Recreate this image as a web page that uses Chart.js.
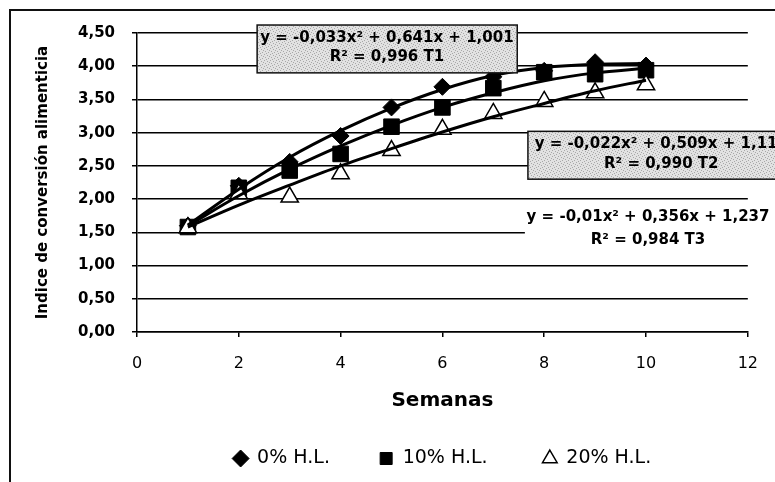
<!DOCTYPE html>
<html>
<head>
<meta charset="utf-8">
<title>Indice de conversión alimenticia</title>
<script src="https://cdn.jsdelivr.net/npm/chart.js"></script>
<style>
  body { margin: 0; background: #fff; }
</style>
</head>
<body>
<canvas id="icaChart" width="775" height="482"></canvas>
<script>
// semanas y valores
const semanas = [1, 2, 3, 4, 5, 6, 7, 8, 9, 10];
const hl0 = [1.60, 2.20, 2.56, 2.95, 3.38, 3.69, 3.84, 3.93, 4.06, 4.01];
const hl10 = [1.58, 2.17, 2.43, 2.68, 3.09, 3.38, 3.67, 3.91, 3.88, 3.94];
const hl20 = [1.57, 2.08, 2.03, 2.38, 2.73, 3.05, 3.29, 3.47, 3.60, 3.72];
// lineas de tendencia
const tend0 = [1.61, 2.15, 2.63, 3.03, 3.37, 3.65, 3.86, 3.98, 4.03, 4.04];
const tend10 = [1.60, 2.05, 2.45, 2.80, 3.11, 3.38, 3.60, 3.78, 3.90, 3.97];
const tend20 = [1.58, 1.91, 2.21, 2.50, 2.76, 3.01, 3.24, 3.44, 3.63, 3.79];
const seriesNames = ['0% H.L.', '10% H.L.', '20% H.L.'];
const yTicks = [0, 0.5, 1, 1.5, 2, 2.5, 3, 3.5, 4, 4.5];
const xTicks = [0, 2, 4, 6, 8, 10, 12];
const equations = [
    ['y = -0,033x² + 0,641x + 1,001', 'R² = 0,996 T1'],
    ['y = -0,022x² + 0,509x + 1,118', 'R² = 0,990 T2'],
    ['y = -0,01x² + 0,356x + 1,237', 'R² = 0,984 T3']
];

const pts = (vals) => semanas.map((s, i) => ({ x: s, y: vals[i] }));

// textura gris del recuadro (como el escaneo)
const speckle = (() => {
    const c = document.createElement('canvas');
    c.width = 6; c.height = 6;
    const g = c.getContext('2d');
    g.fillStyle = '#e2e2e2';
    g.fillRect(0, 0, 6, 6);
    g.fillStyle = '#a8a8a8';
    [[0, 0], [3, 1], [1, 3], [4, 4], [5, 2], [2, 5]].forEach(([a, b]) => g.fillRect(a, b, 1, 1));
    return c;
})();

const framePlugin = {
    id: 'frame',
    beforeDraw(chart) {
        const ctx = chart.ctx;
        ctx.save();
        ctx.fillStyle = '#fff';
        ctx.fillRect(0, 0, chart.width, chart.height);
        ctx.strokeStyle = '#111';
        ctx.lineWidth = 2;
        ctx.beginPath();
        ctx.moveTo(10, chart.height);
        ctx.lineTo(10, 10);
        ctx.lineTo(chart.width, 10);
        ctx.stroke();
        ctx.restore();
    }
};

const eqPlugin = {
    id: 'eqBoxes',
    afterDraw(chart) {
        const { ctx, scales: { x, y } } = chart;
        const boxes = [
            { x0: 2.36, x1: 7.47, y0: 4.62, y1: 3.90, cx: 4.91, ly: [4.42, 4.14], gray: true },
            { x0: 7.68, x1: 13, y0: 3.02, y1: 2.30, cx: 10.30, ly: [2.83, 2.53], gray: true },
            { x0: 7.62, x1: 13, y0: 1.93, y1: 1.29, cx: 10.04, ly: [1.73, 1.39], gray: false }
        ];
        ctx.save();
        boxes.forEach((b, i) => {
            const px0 = x.getPixelForValue(b.x0), px1 = x.getPixelForValue(b.x1);
            const py0 = y.getPixelForValue(b.y0), py1 = y.getPixelForValue(b.y1);
            ctx.fillStyle = b.gray ? ctx.createPattern(speckle, 'repeat') : '#fff';
            ctx.fillRect(px0, py0, px1 - px0, py1 - py0);
            if (b.gray) {
                ctx.strokeStyle = '#111';
                ctx.lineWidth = 1.5;
                ctx.strokeRect(px0, py0, px1 - px0, py1 - py0);
            }
            ctx.fillStyle = '#000';
            ctx.font = 'bold 15px "DejaVu Sans"';
            ctx.textAlign = 'center';
            ctx.textBaseline = 'middle';
            equations[i].forEach((t, k) => {
                ctx.fillText(t, x.getPixelForValue(b.cx), y.getPixelForValue(b.ly[k]));
            });
        });
        ctx.restore();
    }
};

new Chart(document.getElementById('icaChart'), {
    type: 'scatter',
    data: {
        datasets: [
            { label: seriesNames[0], data: pts(hl0), pointStyle: 'rectRot', pointRadius: 8.5,
              backgroundColor: '#000', borderColor: '#000', borderWidth: 1, order: 3 },
            { label: seriesNames[1], data: pts(hl10), pointStyle: 'rect', pointRadius: 11,
              backgroundColor: '#000', borderColor: '#000', borderWidth: 1, order: 2 },
            { label: seriesNames[2], data: pts(hl20), pointStyle: 'triangle', pointRadius: 10,
              backgroundColor: '#fff', borderColor: '#000', borderWidth: 1.5, order: 1 },
            { label: 'T1', data: pts(tend0), showLine: true, pointRadius: 0, borderColor: '#000',
              borderWidth: 3, cubicInterpolationMode: 'monotone', order: 0 },
            { label: 'T2', data: pts(tend10), showLine: true, pointRadius: 0, borderColor: '#000',
              borderWidth: 3, cubicInterpolationMode: 'monotone', order: 0 },
            { label: 'T3', data: pts(tend20), showLine: true, pointRadius: 0, borderColor: '#000',
              borderWidth: 3, cubicInterpolationMode: 'monotone', order: 0 }
        ]
    },
    options: {
        responsive: false,
        animation: false,
        devicePixelRatio: 1,
        layout: { padding: { left: 0, top: 33, right: 27, bottom: 4 } },
        plugins: {
            tooltip: { enabled: false },
            legend: {
                position: 'bottom',
                fullSize: false,
                labels: {
                    usePointStyle: true,
                    boxWidth: 14,
                    boxHeight: 12,
                    padding: 13,
                    color: '#000',
                    font: { family: 'DejaVu Sans', size: 19 },
                    generateLabels(chart) {
                        const items = Chart.defaults.plugins.legend.labels.generateLabels(chart);
                        return items.map(it => ({
                            ...it,
                            text: it.text + ' '.repeat(it.datasetIndex === 0 ? 6 : it.datasetIndex === 1 ? 7 : 0)
                        }));
                    },
                    filter: item => item.datasetIndex < 3,
                    sort: (a, b) => a.datasetIndex - b.datasetIndex
                }
            }
        },
        scales: {
            x: {
                type: 'linear',
                min: 0,
                max: 12,
                afterBuildTicks: s => { s.ticks = xTicks.map(v => ({ value: v })); },
                afterFit: s => { s.height = 104; },
                grid: { drawOnChartArea: false, drawTicks: true, tickLength: 5, color: '#000', lineWidth: 1.5 },
                border: { display: true, color: '#000', width: 1.5 },
                ticks: { color: '#000', font: { family: 'DejaVu Sans', size: 16 }, padding: 17, maxRotation: 0 },
                title: {
                    display: true, text: 'Semanas', color: '#000',
                    font: { family: 'DejaVu Sans', size: 20, weight: 'bold' },
                    padding: { top: 0, bottom: 23 }
                }
            },
            y: {
                min: 0,
                max: 4.5,
                afterBuildTicks: s => { s.ticks = yTicks.map(v => ({ value: v })); },
                afterFit: s => { s.width = 137; },
                grid: { color: '#000', lineWidth: 1.5, tickLength: 5, drawTicks: true },
                border: { display: true, color: '#000', width: 1.5 },
                ticks: {
                    color: '#000', font: { family: 'DejaVu Sans', size: 15, weight: 'bold' }, padding: 17,
                    callback: v => v.toFixed(2).replace('.', ',')
                },
                title: {
                    display: true, text: 'Indice de conversión alimenticia', color: '#000',
                    font: { family: 'DejaVu Sans', size: 15, weight: 'bold' },
                    padding: { top: 34, bottom: 0 }
                }
            }
        }
    },
    plugins: [framePlugin, eqPlugin]
});
</script>
</body>
</html>
